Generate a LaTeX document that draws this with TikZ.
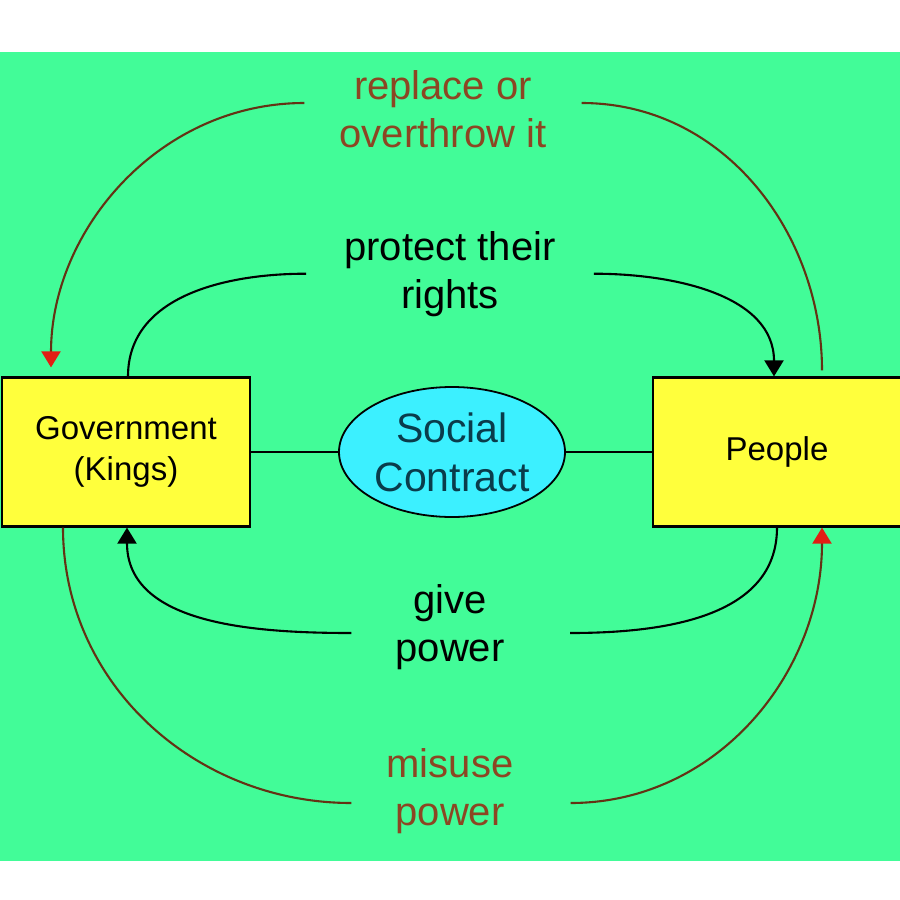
\documentclass[tikz,border=0pt]{standalone}
\usepackage{fontspec}
\setmainfont{Liberation Sans}
\usetikzlibrary{positioning,shapes.geometric,arrows.meta}

\definecolor{meadow}{RGB}{66,252,152}
\definecolor{lemon}{RGB}{255,255,60}
\definecolor{sky}{RGB}{60,240,255}
\definecolor{rust}{RGB}{100,50,20}
\definecolor{rusttext}{RGB}{140,70,35}
\definecolor{tipred}{RGB}{225,30,20}
\definecolor{ink}{RGB}{10,60,75}

\begin{document}
\begin{tikzpicture}[
    x=1pt,y=1pt,
    party/.style={rectangle,draw,line width=2.2pt,fill=lemon,minimum width=248pt,minimum height=149pt,align=center,font=\fontsize{33}{41}\selectfont},
    pact/.style={ellipse,draw,line width=1.8pt,fill=sky,minimum width=226pt,minimum height=130pt,inner sep=0pt,align=center,text=ink,font=\fontsize{41}{49}\selectfont},
    words/.style={align=center,inner xsep=#1,inner ysep=0pt,font=\fontsize{40}{48}\selectfont},
    link/.style={line width=2.1pt},
    brown link/.style={link,draw=rust},
    red tip/.style={-{Triangle[width=19pt,length=16pt,color=tipred]}},
    black tip/.style={-{Triangle[width=19pt,length=16pt]}},
  ]
\useasboundingbox (0,0) rectangle (900,-900);
\fill[white] (0,0) rectangle (900,-900);
\fill[meadow] (0,-52) rectangle (900,-861);

\node (contract) [pact] at (452,-452) {Social\\Contract};
\node (gov) [party,left=87pt of contract] {Government\\(Kings)};
\node (people) [party,right=86pt of contract] {People};

\node (replace) [words=35pt,text=rusttext] at (443,-109.5) {replace or\\overthrow it};
\node (protect) [words=38pt] at (450,-273.7) {protect their\\rights};
\node (give) [words=44pt] at (450,-626.7) {give\\power};
\node (misuse) [words=35pt,text=rusttext] at (450,-791.4) {misuse\\power};

\draw[link] (gov) -- (contract);
\draw[link] (contract) -- (people);

\draw[brown link,shorten <=6pt] ([xshift=45pt]people.north) to[out=90,in=0] ([yshift=6.5pt]replace.east);
\draw[brown link,red tip,shorten >=9pt] ([yshift=6.5pt]replace.west) to[out=180,in=90] ([xshift=-75pt]gov.north);

\draw[link] ([xshift=2pt]gov.north) to[out=90,in=180] (protect.west);
\draw[link,black tip] (protect.east) to[out=0,in=90] ([xshift=-3pt]people.north);

\draw[link] (people.south) to[out=-90,in=0] ([xshift=21.5pt,yshift=-6.3pt]give.east);
\draw[link,black tip] ([yshift=-6.3pt]give.west) to[out=180,in=-90] ([xshift=1pt]gov.south);

\draw[brown link] ([xshift=-63pt]gov.south) to[out=-90,in=180] ([yshift=-11.6pt]misuse.west);
\draw[brown link,red tip] ([xshift=22pt,yshift=-11.6pt]misuse.east) to[out=0,in=-90] ([xshift=45pt]people.south);
\end{tikzpicture}
\end{document}
